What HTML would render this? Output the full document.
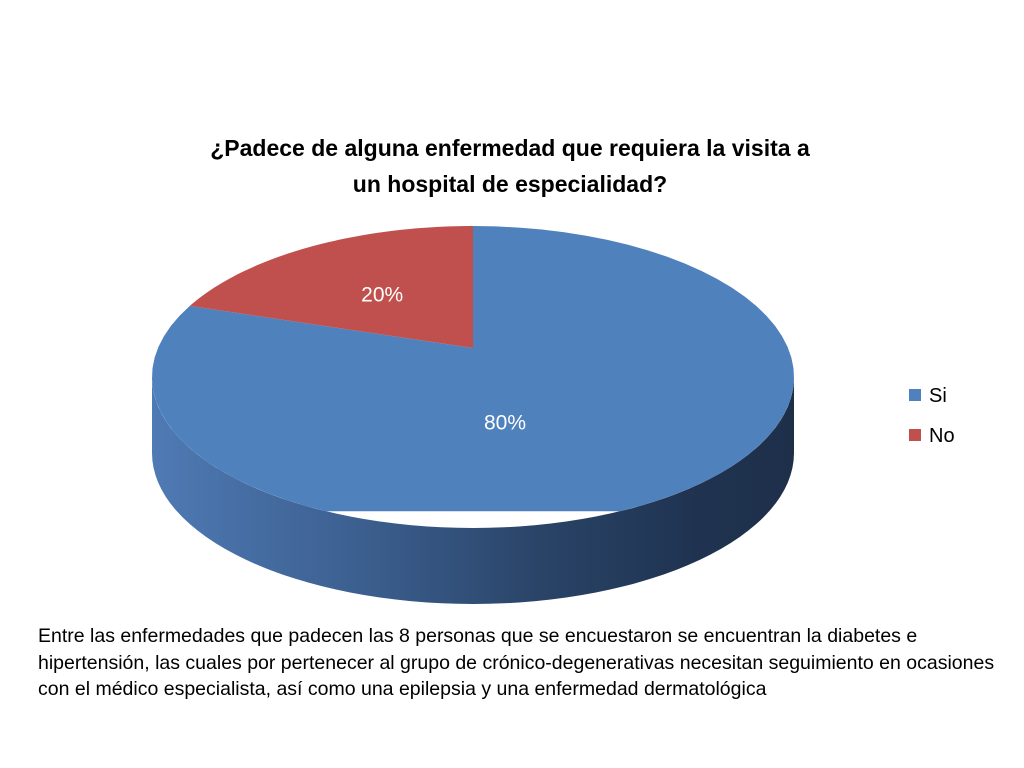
<!DOCTYPE html>
<html><head><meta charset="utf-8"><style>
body{margin:0;background:#fff;width:1024px;height:768px;overflow:hidden;font-family:"Liberation Sans",sans-serif}
#title{position:absolute;left:110px;top:130px;width:800px;text-align:center;font-weight:bold;font-size:23px;line-height:36px;color:#000}
#note{position:absolute;left:38px;top:623px;width:960px;font-size:19.5px;line-height:26.5px;color:#000}
</style></head><body>
<div id="title">¿Padece de alguna enfermedad que requiera la visita a<br>un hospital de especialidad?</div>
<svg id="chart" width="1024" height="768" style="position:absolute;left:0;top:0">
<defs>
<linearGradient id="side" x1="0" x2="1" y1="0" y2="0">
<stop offset="0" stop-color="#4f7ab4"/><stop offset="0.35" stop-color="#3a5d8c"/><stop offset="0.6" stop-color="#2a4468"/><stop offset="0.85" stop-color="#1f3350"/><stop offset="1" stop-color="#1e2f4a"/>
</linearGradient>
</defs>
</svg>
<div id="note">Entre las enfermedades que padecen las 8 personas que se encuestaron se encuentran la diabetes e hipertensión, las cuales por pertenecer al grupo de crónico-degenerativas necesitan seguimiento en ocasiones con el médico especialista, así como una epilepsia y una enfermedad dermatológica</div>
<script>
const categories=["Si","No"];
const values=[80,20];
const labels=["80%","20%"];
const colors=["#4f81bd","#c0504d"];
const svg=document.getElementById('chart');
const NS="http://www.w3.org/2000/svg";
const cx=473,cy=377,rx=321,ry=151,depth=76,ax=473,ay=348;
const total=values.reduce((a,b)=>a+b,0);
// angle (fraction of circle, clockwise from top) -> point on top ellipse, with perspective foreshortening
function pt(f){const t=2*Math.PI*f*0.86;return [cx+rx*Math.sin(t),cy-ry*Math.cos(t)];}
function mk(tag,attrs){const e=document.createElementNS(NS,tag);for(const k in attrs)e.setAttribute(k,attrs[k]);svg.appendChild(e);return e;}
// side wall
const side=mk('path',{d:`M${cx-rx},${cy} L${cx-rx},${cy+depth} A${rx},${ry} 0 0 0 ${cx+rx},${cy+depth} L${cx+rx},${cy} A${rx},${ry} 0 0 1 ${cx-rx},${cy} Z`,fill:'url(#side)'});


// slices: "Si" from top clockwise, "No" ending at top
let start=0;
const angles=[];
for(let i=0;i<values.length;i++){const f=values[i]/total;angles.push([start,start+f]);start+=f;}
for(let i=0;i<values.length;i++){
  const [a0,a1]=angles[i];
  const N=60;let d=`M${ax},${ay}`;
  for(let k=0;k<=N;k++){const f=a0+(a1-a0)*k/N;const f2=f>=1?1:f;const p=(f2>0.5)?pt(f2-1):pt(f2);d+=` L${p[0].toFixed(1)},${p[1].toFixed(1)}`;}
  d+=' Z';
  const s=mk('path',{d:d,fill:colors[i]});
  
  
  const mid=(a0+a1)/2;const mp=mid>0.5?pt(mid-1):pt(mid);
  const lx=ax+(mp[0]-ax)*(i==0?0.12:0.55), ly=ay+(mp[1]-ay)*(i==0?0.12:0.55)+ (i==0?68:9);
  const t=mk('text',{x:lx,y:ly,'text-anchor':'middle','font-size':'21',fill:'#fff','font-family':'Liberation Sans, sans-serif'});
  t.textContent=labels[i];
  
  
}
// legend
for(let i=0;i<categories.length;i++){
  const y=389+i*40;
  const r=mk('rect',{x:909,y:y,width:12,height:12,fill:colors[i]});
  
  
  const t=mk('text',{x:929,y:y+13,'font-size':'20',fill:'#000','font-family':'Liberation Sans, sans-serif'});
  t.textContent=categories[i];
  
  
}
</script>
</body></html>
